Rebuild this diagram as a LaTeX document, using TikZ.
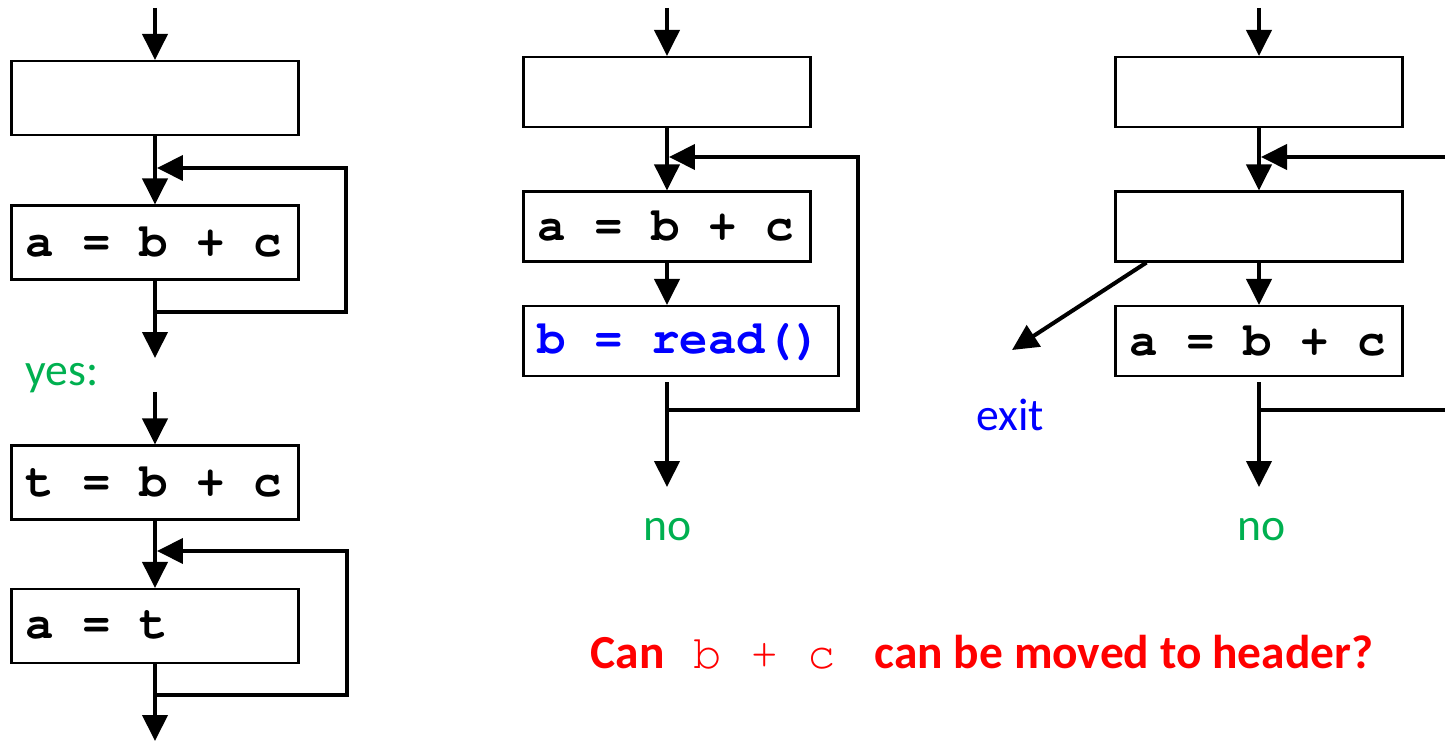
\documentclass[tikz,border=0pt]{standalone}
\usepackage[T1]{fontenc}
\usepackage{fontspec}
\setmainfont{Carlito}
\newcommand\codefont{\fontencoding{T1}\fontfamily{pcr}\selectfont}
\newcommand\codebold{\fontsize{27}{31}\codefont\bfseries}
\usepackage{xcolor}
\usepackage{tikz}
\usetikzlibrary{arrows.meta}
\definecolor{okgreen}{RGB}{0,176,80}
\definecolor{codeblue}{RGB}{0,0,255}
\definecolor{askred}{RGB}{255,0,0}
\tikzset{
  blockbox/.style={draw, line width=1.2pt, minimum width=5.74cm, minimum height=1.48cm,
    inner xsep=0.28cm, inner ysep=0pt, text width=5.18cm, font=\codebold,
    execute at begin node={\spaceskip=16.2pt\xspaceskip=16.2pt\relax}},
  shortbox/.style={blockbox, minimum height=1.4cm},
  widebox/.style={shortbox, minimum width=6.3cm, text width=5.74cm},
  flow/.style={-{Triangle[length=0.52cm,width=0.5cm]}, line width=2.3pt},
  link/.style={line width=2.3pt},
  answer/.style={inner sep=0pt, font=\fontsize{26}{30}\selectfont},
  question/.style={inner sep=0pt, text=askred, font=\bfseries\fontsize{27}{32}\selectfont}
}
\begin{document}
\begin{tikzpicture}[x=0.02cm, y=-0.02cm]
\useasboundingbox (0,0) rectangle (1445,743);

\node[blockbox] (ab1) at (155,98) {};
\node[blockbox] (ab2) at (155,242.5) {a = b + c};
\node[answer, text=okgreen] (yes) at (62,378) {yes:};
\node[blockbox] (ab3) at (155,482.5) {t = b + c};
\node[blockbox] (ab4) at (155,626) {a = t};
\coordinate (ain) at (155,8);
\coordinate (ajoin) at (155,312);
\coordinate (aback) at (346,168);
\coordinate (atip) at (157,168);
\coordinate (aout) at (155,358);
\coordinate (ain2) at (155,392);
\coordinate (ajoin2) at (155,695);
\coordinate (aback2) at (347,551);
\coordinate (atip2) at (157,551);
\coordinate (aout2) at (155,741);

\draw[flow] (ain) -- (ab1);
\draw[flow] (ab1) -- (ab2);
\draw[flow] (ab2) -- (aout);
\draw[flow] (ajoin) -| (aback) -- (atip);
\draw[flow] (ain2) -- (ab3);
\draw[flow] (ab3) -- (ab4);
\draw[flow] (ab4) -- (aout2);
\draw[flow] (ajoin2) -| (aback2) -- (atip2);

\node[shortbox] (bb1) at (667,92) {};
\node[shortbox] (bb2) at (667,226.5) {a = b + c};
\node[widebox, text=codeblue] (bb3) at (681,341) {b = read()};
\node[answer, text=okgreen] (no2) at (668,530) {no};
\coordinate (bin) at (667,8);
\coordinate (bjoin) at (667,410);
\coordinate (bback) at (858,157);
\coordinate (btip) at (669,157);
\coordinate (bout) at (667,487);

\draw[flow] (bin) -- (bb1);
\draw[flow] (bb1) -- (bb2);
\draw[flow] (bb2) -- (bb2.south |- bb3.north);
\draw[flow, shorten <=0.1cm] (bb3.south -| bb2) -- (bout);
\draw[flow] (bjoin) -| (bback) -- (btip);

\node[shortbox] (cb1) at (1259,92) {};
\node[shortbox] (cb2) at (1259,226.5) {};
\node[shortbox] (cb3) at (1259,341) {a = b + c};
\node[answer, text=codeblue] (exit) at (1010,415) {exit};
\node[answer, text=okgreen] (no3) at (1262,530) {no};
\coordinate (cin) at (1259,8);
\coordinate (cback) at (1445,157);
\coordinate (ctip) at (1261,157);
\coordinate (cjoin) at (1259,410);
\coordinate (cedge) at (1445,410);
\coordinate (cout) at (1259,487);
\coordinate (cexit) at (1012,350);

\draw[flow] (cin) -- (cb1);
\draw[flow] (cb1) -- (cb2);
\draw[flow] (cback) -- (ctip);
\draw[flow] (cb2) -- (cb3);
\draw[flow, shorten <=0.1cm] (cb3) -- (cout);
\draw[link] (cjoin) -- (cedge);
\draw[flow] ([xshift=0.64cm]cb2.south west) -- (cexit);

\node[question] (ask) at (982,652) {Can{\codefont\mdseries\ b + c\ } can be moved to header?};
\end{tikzpicture}
\end{document}
